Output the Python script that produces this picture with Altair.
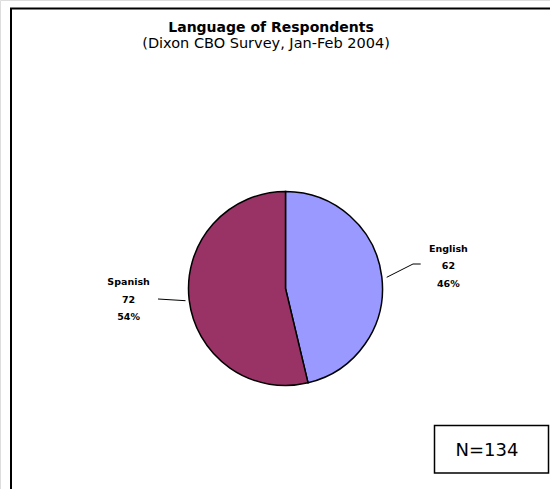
import altair as alt
import pandas as pd

languages = ["English", "Spanish"]
counts = [62, 72]
percents = ["46%", "54%"]
colors = ["#9999FF", "#993366"]

title_text = "Language of Respondents"
subtitle_text = "(Dixon CBO Survey, Jan-Feb 2004)"
n_text = "N=134"

df = pd.DataFrame({
    "language": languages,
    "count": counts,
    "pct": percents,
    "order": list(range(len(languages))),
})
df["label"] = df["language"] + "\n" + df["count"].astype(str) + "\n" + df["pct"]

FONT = "DejaVu Sans"
CX, CY = 285.5, 288.5
base = alt.Chart(df)
one = alt.Chart(alt.Data(values=[{}]))

pie = base.mark_arc(radius=97, stroke="black", strokeWidth=1.5).encode(
    theta=alt.Theta("count:Q", stack=True),
    order=alt.Order("order:Q"),
    color=alt.Color("language:N", scale=alt.Scale(domain=languages, range=colors), legend=None),
    x=alt.value(CX), y=alt.value(CY),
)

# stacking must see both rows, so compute the stack before filtering
lab_base = base.transform_stack(
    stack="count", groupby=[], as_=["s0", "s1"], sort=[alt.SortField("order")]
).transform_calculate(mid="(datum.s0 + datum.s1) / 2")

def lab(lang, r, shift):
    return lab_base.transform_filter(alt.datum.language == lang).mark_text(
        radius=r, font=FONT, fontSize=9.5, fontWeight="bold", lineBreak="\n",
        lineHeight=17.5, align="center", baseline="middle", color="black", dy=-17.5 + shift,
    ).encode(
        theta=alt.Theta("mid:Q", scale=alt.Scale(domain=[0, sum(counts)], range=[0, 6.283185307179586])),
        text="label:N",
        x=alt.value(CX), y=alt.value(CY),
    )

lines = [
    (386.7, 277.3, 413, 264),
    (413, 264, 420.7, 264),
    (158, 299, 185.5, 300.7),
]
leaders = [
    one.mark_rule(color="black", strokeWidth=1).encode(
        x=alt.value(a), y=alt.value(b), x2=alt.value(c), y2=alt.value(d))
    for a, b, c, d in lines
]

border = one.mark_rect(fill=None, stroke="black", strokeWidth=2).encode(
    x=alt.value(11), y=alt.value(8.5), x2=alt.value(620), y2=alt.value(560))

title = one.mark_text(font=FONT, fontSize=14, fontWeight="bold", align="center",
                      baseline="alphabetic").encode(
    x=alt.value(271), y=alt.value(31.5), text=alt.value(title_text))
subtitle = one.mark_text(font=FONT, fontSize=14.5, align="center",
                         baseline="alphabetic").encode(
    x=alt.value(266), y=alt.value(47.5), text=alt.value(subtitle_text))

nbox = one.mark_rect(fill="white", stroke="black", strokeWidth=1.5).encode(
    x=alt.value(434.5), y=alt.value(425.5), x2=alt.value(548.5), y2=alt.value(473))
ntext = one.mark_text(font=FONT, fontSize=18, align="center", baseline="alphabetic").encode(
    x=alt.value(487), y=alt.value(456), text=alt.value(n_text))

chart = alt.layer(
    border, title, subtitle, pie, lab("English", 164, -3), lab("Spanish", 158, -7),
    *leaders, nbox, ntext
).properties(
    width=550, height=489, padding=0, autosize=alt.AutoSizeParams(type="none")
).configure_view(stroke=None).configure(background="white")

chart.save("out.html", embed_options={"renderer": "svg", "actions": False})
